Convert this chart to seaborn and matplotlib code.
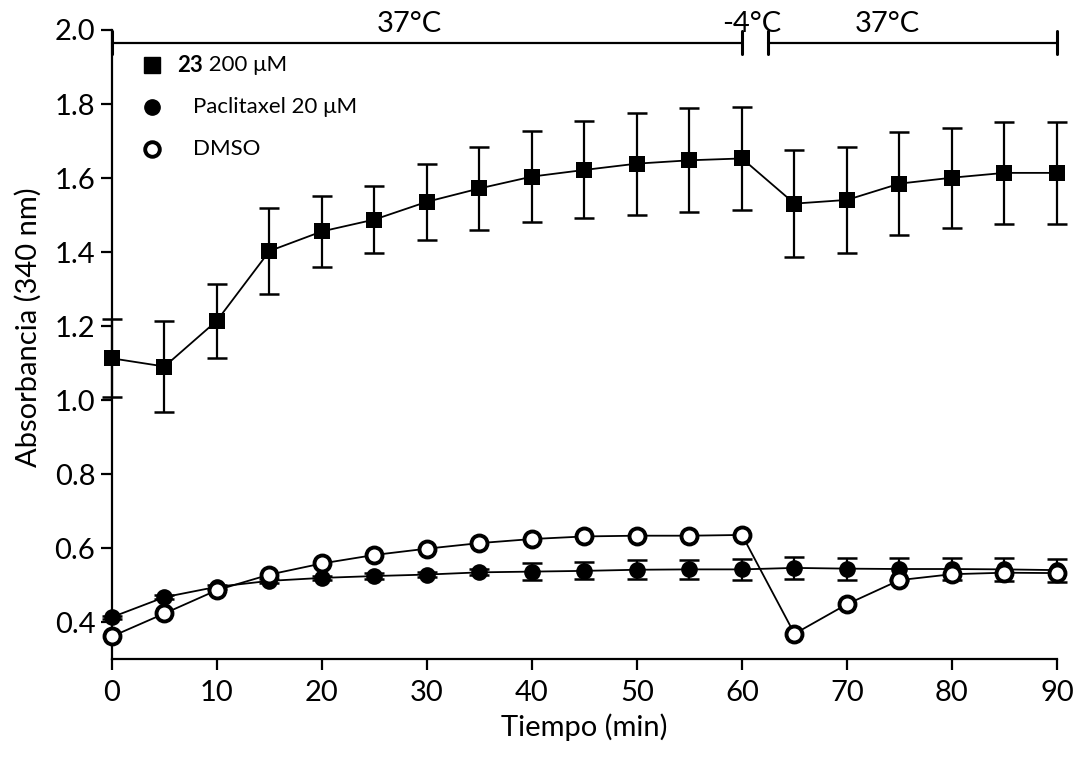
import numpy as np
import pandas as pd
import matplotlib
matplotlib.use("Agg")
import matplotlib.pyplot as plt
import seaborn as sns

# Time points (min)
tiempo = [0, 5, 10, 15, 20, 25, 30, 35, 40, 45, 50, 55, 60, 65, 70, 75, 80, 85, 90]

# Compound 23, 200 uM
abs_23 = [1.113, 1.091, 1.215, 1.403, 1.456, 1.488, 1.536, 1.572, 1.604, 1.622,
          1.639, 1.648, 1.653, 1.531, 1.541, 1.585, 1.601, 1.614, 1.614]
err_23 = [0.105, 0.122, 0.100, 0.117, 0.096, 0.091, 0.102, 0.113, 0.122, 0.131,
          0.138, 0.140, 0.140, 0.144, 0.143, 0.140, 0.135, 0.137, 0.137]

# Paclitaxel, 20 uM
abs_ptx = [0.414, 0.468, 0.496, 0.512, 0.520, 0.525, 0.529, 0.535, 0.537, 0.539,
           0.542, 0.543, 0.543, 0.547, 0.545, 0.544, 0.544, 0.543, 0.541]
err_ptx = [0.004, 0.005, 0.005, 0.006, 0.006, 0.007, 0.007, 0.008, 0.022, 0.023,
           0.025, 0.026, 0.028, 0.030, 0.030, 0.029, 0.030, 0.031, 0.031]

# DMSO control
abs_dmso = [0.362, 0.424, 0.487, 0.529, 0.559, 0.582, 0.599, 0.614, 0.625, 0.632,
            0.634, 0.634, 0.636, 0.369, 0.449, 0.514, 0.530, 0.534, 0.533]

# Temperature periods: (start, end, label, label position)
temp_periods = [(0, 60, "37°C", 28.3), (62.5, 90, "37°C", 73.8)]
cold_label = ("-4°C", 60.9)

sns.set_theme(style="ticks")
plt.rcParams["font.family"] = ["Lato", "DejaVu Sans"]

fig = plt.figure(figsize=(10.8, 7.57), dpi=100)
ax = fig.add_axes([0.1037, 0.129, 0.875, 0.8314])

df = pd.DataFrame({"t": tiempo, "c23": abs_23, "ptx": abs_ptx, "dmso": abs_dmso})

lw = 1.3
ms = 12
# error bars
ax.errorbar(tiempo, abs_23, yerr=err_23, fmt="none", ecolor="black",
            elinewidth=1.6, capsize=7.5, capthick=1.8, clip_on=False, zorder=2)
ax.errorbar(tiempo, abs_ptx, yerr=err_ptx, fmt="none", ecolor="black",
            elinewidth=1.6, capsize=7.5, capthick=1.8, clip_on=False, zorder=2)

sns.lineplot(data=df, x="t", y="c23", ax=ax, color="black", lw=lw,
             marker="s", markersize=ms - 0.5, markeredgewidth=0, zorder=4, clip_on=False)
sns.lineplot(data=df, x="t", y="ptx", ax=ax, color="black", lw=lw,
             marker="o", markersize=ms, markeredgewidth=0, zorder=3, clip_on=False)
sns.lineplot(data=df, x="t", y="dmso", ax=ax, color="black", lw=lw,
             marker="o", markersize=ms - 0.5, markerfacecolor="white",
             markeredgecolor="black", markeredgewidth=2.8, zorder=5, clip_on=False)

ax.set_xlim(0, 90)
ax.set_ylim(0.3, 2.0)
ax.set_xticks(np.arange(0, 91, 10))
ax.set_yticks(np.arange(0.4, 2.01, 0.2))
ax.set_yticklabels([f"{v:.1f}" for v in np.arange(0.4, 2.01, 0.2)])
ax.tick_params(axis="both", labelsize=21, length=8, width=1.6, color="black",
               labelcolor="black", direction="out", pad=4)
ax.tick_params(axis="x", pad=7)
for s in ["top", "right"]:
    ax.spines[s].set_visible(False)
for s in ["left", "bottom"]:
    ax.spines[s].set_linewidth(1.6)
    ax.spines[s].set_color("black")

ax.set_xlabel("Tiempo (min)", fontsize=21, color="black", labelpad=5)
ax.set_ylabel("Absorbancia (340 nm)", fontsize=21, color="black")
ax.yaxis.set_label_coords(-0.074, 0.528)

# temperature bars across the top
bar_y = 1.966
cap = 0.03
for x0, x1, lab, lx in temp_periods:
    ax.plot([x0, x1], [bar_y, bar_y], color="black", lw=1.6, clip_on=False)
    ax.plot([x0, x0], [bar_y - cap, bar_y + cap], color="black", lw=2.2, clip_on=False)
    ax.plot([x1, x1], [bar_y - cap, bar_y + cap], color="black", lw=2.2, clip_on=False)
    ax.text(lx, 1.982, lab, ha="center", va="bottom", fontsize=21, color="black")
ax.text(cold_label[1], 1.982, cold_label[0], ha="center", va="bottom",
        fontsize=21, color="black")

# legend
leg_x_mark = 0.042
leg_rows = [0.944, 0.877, 0.811]
ax.plot([leg_x_mark], [leg_rows[0]], marker="s", ms=11, color="black",
        transform=ax.transAxes, clip_on=False)
ax.plot([leg_x_mark], [leg_rows[1]], marker="o", ms=11, color="black",
        transform=ax.transAxes, clip_on=False)
ax.plot([leg_x_mark], [leg_rows[2]], marker="o", ms=10.5, mfc="white", mec="black",
        mew=2.8, transform=ax.transAxes, clip_on=False)
t23 = ax.text(0.069, leg_rows[0], "23", fontweight="bold", fontsize=16,
              va="center", ha="left", color="black", transform=ax.transAxes)
ax.annotate(" 200 μM", xy=(1, 0.5), xycoords=t23, va="center", ha="left",
            fontsize=16, color="black")
ax.text(0.086, leg_rows[1], "Paclitaxel 20 μM", fontsize=16, va="center",
        ha="left", color="black", transform=ax.transAxes)
ax.text(0.086, leg_rows[2], "DMSO", fontsize=16, va="center", ha="left",
        color="black", transform=ax.transAxes)

fig.savefig("out.png", dpi=100)
